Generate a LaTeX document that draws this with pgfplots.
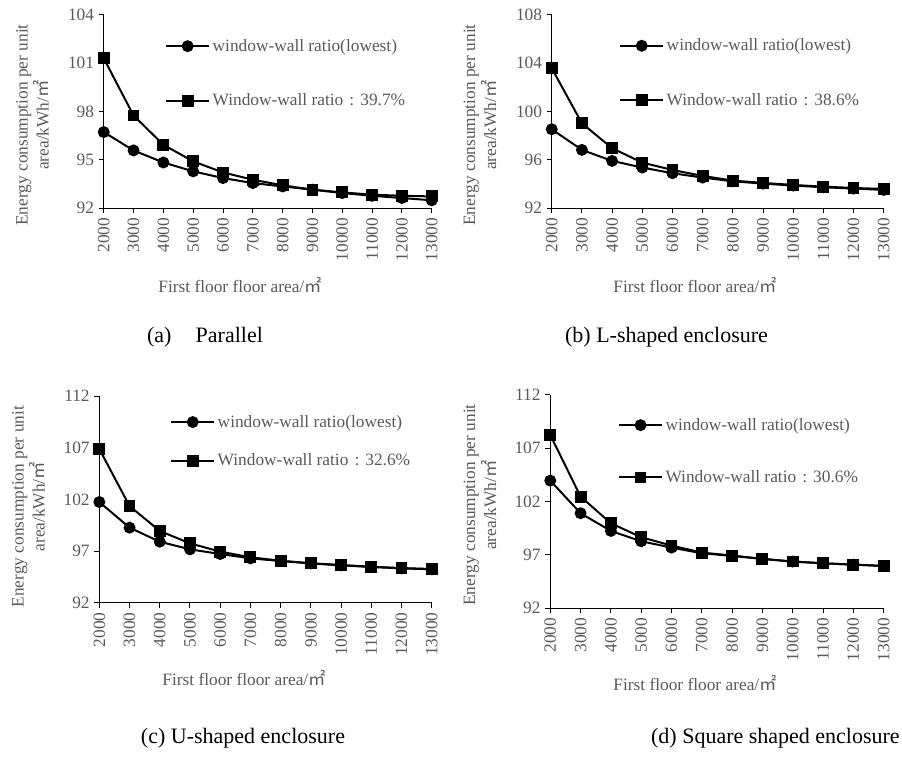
\documentclass[border=0pt]{standalone}
\usepackage{pgfplots}
\usepackage{pgfplotstable}
\pgfplotsset{compat=1.18}
\usepackage{fontspec}
\setmainfont{Liberation Serif}
\newfontfamily\cjk{Noto Sans CJK SC}
\definecolor{txt}{HTML}{595959}
\newcommand{\sqm}{{\cjk ㎡}}
\newcommand{\fcolon}{\hspace{0.35em}:\hspace{0.35em}}

\pgfplotstableread{
x low ratio
2000 96.72 101.31
3000 95.58 97.75
4000 94.83 95.93
5000 94.28 94.90
6000 93.86 94.21
7000 93.55 93.76
8000 93.34 93.41
9000 93.14 93.14
10000 92.93 92.97
11000 92.76 92.83
12000 92.62 92.76
13000 92.48 92.72
}\tabA
\pgfplotstableread{
x low ratio
2000 98.54 103.59
3000 96.83 99.03
4000 95.92 96.97
5000 95.37 95.78
6000 94.90 95.17
7000 94.54 94.68
8000 94.23 94.29
9000 94.04 94.10
10000 93.88 93.93
11000 93.74 93.79
12000 93.63 93.68
13000 93.52 93.60
}\tabB
\pgfplotstableread{
x low ratio
2000 101.74 106.87
3000 99.26 101.35
4000 97.90 98.94
5000 97.16 97.74
6000 96.71 96.94
7000 96.29 96.39
8000 96.03 96.06
9000 95.80 95.81
10000 95.61 95.65
11000 95.45 95.48
12000 95.32 95.35
13000 95.23 95.26
}\tabC
\pgfplotstableread{
x low ratio
2000 103.97 108.25
3000 100.91 102.47
4000 99.25 99.97
5000 98.28 98.66
6000 97.69 97.88
7000 97.16 97.22
8000 96.91 96.94
9000 96.63 96.63
10000 96.38 96.38
11000 96.22 96.22
12000 96.09 96.09
13000 95.97 95.97
}\tabD

\pgfplotsset{
 panel/.style={
  scale only axis,
  anchor=south west,
  axis x line*=bottom, axis y line*=left,
  xmin=2000, xmax=13000,
  scaled x ticks=false, scaled y ticks=false,
  xtick={2000,3000,4000,5000,6000,7000,8000,9000,10000,11000,12000,13000},
  xticklabels={2000,3000,4000,5000,6000,7000,8000,9000,10000,11000,12000,13000},
  xticklabel style={rotate=90, anchor=east, font=\fontsize{13}{15}\selectfont, text=txt},
  yticklabel style={font=\fontsize{13}{15}\selectfont, text=txt},
  /pgf/number format/assume math mode=true,
  tick align=outside,
  major tick length=3.75pt,
  tick style={black, line width=0.75pt},
  axis line style={black, line width=0.75pt},
  clip=false,
  every axis plot/.append style={black, line width=1.5pt, mark size=3.7pt},
  legend style={draw=none, fill=none, anchor=north west, inner sep=0pt,
     font=\fontsize{13}{15}\selectfont, text=txt, legend cell align=left,
     nodes={inner sep=2pt}},
  legend image code/.code={\draw[mark repeat=2, mark phase=2] plot coordinates {(0pt,0pt) (16pt,0pt) (32pt,0pt)};},
 }
}

\begin{document}
\begin{tikzpicture}
\path[use as bounding box] (0pt,0pt) rectangle (676.5pt,-567pt);

% (a)
\begin{axis}[panel, at={(77.8pt,-156pt)}, width=246pt, height=144.75pt,
  ymin=92, ymax=104, ytick={92,95,98,101,104},
  legend style={at={(0.187,0.89)}, /tikz/row sep=26.4pt}]
\addplot[mark=*] table[x=x, y=low] {\tabA};
\addplot[mark=square*] table[x=x, y=ratio] {\tabA};
\legend{window-wall ratio(lowest), Window-wall ratio\fcolon39.7\%}
\end{axis}

% (b)
\begin{axis}[panel, at={(413.8pt,-156.2pt)}, width=249pt, height=145pt,
  ymin=92, ymax=108, ytick={92,96,100,104,108},
  legend style={at={(0.203,0.892)}, /tikz/row sep=26.4pt}]
\addplot[mark=*] table[x=x, y=low] {\tabB};
\addplot[mark=square*] table[x=x, y=ratio] {\tabB};
\legend{window-wall ratio(lowest), Window-wall ratio\fcolon38.6\%}
\end{axis}

% (c)
\begin{axis}[panel, at={(74.5pt,-452pt)}, width=249.3pt, height=155pt,
  ymin=92, ymax=112, ytick={92,97,102,107,112},
  legend style={at={(0.213,0.922)}, /tikz/row sep=14.6pt}]
\addplot[mark=*] table[x=x, y=low] {\tabC};
\addplot[mark=square*] table[x=x, y=ratio] {\tabC};
\legend{window-wall ratio(lowest), Window-wall ratio\fcolon32.6\%}
\end{axis}

% (d)
\begin{axis}[panel, at={(412.7pt,-456.2pt)}, width=250pt, height=160pt,
  ymin=92, ymax=112, ytick={92,97,102,107,112},
  legend style={at={(0.203,0.905)}, /tikz/row sep=24.7pt}]
\addplot[mark=*] table[x=x, y=low] {\tabD};
\addplot[mark=square*] table[x=x, y=ratio] {\tabD};
\legend{window-wall ratio(lowest), Window-wall ratio\fcolon30.6\%}
\end{axis}

% y labels
\tikzset{ylab/.style={rotate=90, align=center, text=txt, font=\fontsize{13}{15.75}\selectfont, inner sep=0pt}}
\node[ylab] at (24.4pt,-93.75pt) {Energy consumption per unit\\area/kWh/\sqm};
\node[ylab] at (360pt,-93.75pt) {Energy consumption per unit\\area/kWh/\sqm};
\node[ylab] at (21.4pt,-380pt) {Energy consumption per unit\\area/kWh/\sqm};
\node[ylab] at (360pt,-378.75pt) {Energy consumption per unit\\area/kWh/\sqm};

% x labels
\tikzset{xlab/.style={text=txt, font=\fontsize{13}{15}\selectfont, inner sep=0pt}}
\node[xlab] at (180pt,-213.75pt) {First floor floor area/\sqm};
\node[xlab] at (521.25pt,-213.75pt) {First floor floor area/\sqm};
\node[xlab] at (183pt,-508.3pt) {First floor floor area/\sqm};
\node[xlab] at (521.25pt,-512.25pt) {First floor floor area/\sqm};

% captions
\tikzset{mycap/.style={text=black, font=\fontsize{16.5}{18}\selectfont, inner sep=0pt}}
\node[mycap, anchor=base] at (153.75pt,-256.5pt) {(a)\hspace{1.1em}Parallel};
\node[mycap, anchor=base] at (499.9pt,-256.5pt) {(b) L-shaped enclosure};
\node[mycap, anchor=base] at (182.25pt,-557.25pt) {(c) U-shaped enclosure};
\node[mycap, anchor=base east] at (675pt,-557.25pt) {(d) Square shaped enclosure};
\end{tikzpicture}
\end{document}
